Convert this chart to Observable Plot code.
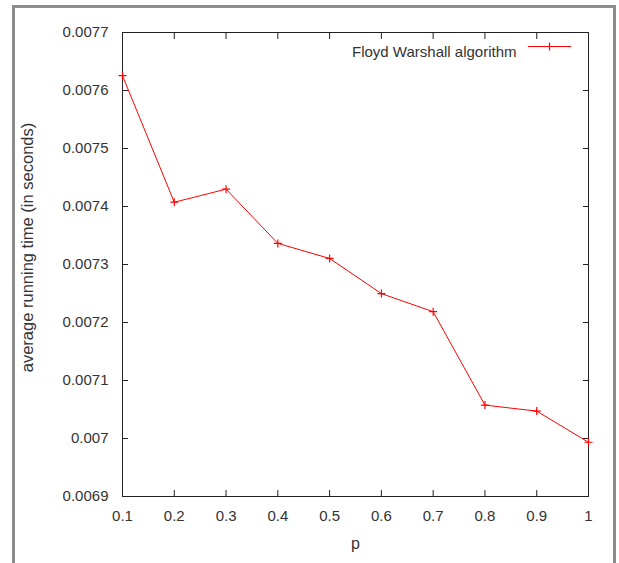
<!DOCTYPE html>
<html>
<head>
<meta charset="utf-8">
<script src="https://cdn.jsdelivr.net/npm/d3@7"></script>
<script src="https://cdn.jsdelivr.net/npm/@observablehq/plot@0.6"></script>
<style>
  html, body { margin: 0; padding: 0; background: #fff; }
  #wrap { position: relative; width: 619px; height: 563px; overflow: hidden; }
  #border { position: absolute; left: 12px; top: 5px; width: 598px; height: 600px; border: 3px solid #8c8c8c; pointer-events: none; }
</style>
</head>
<body>
<div id="wrap"><div id="border"></div></div>
<script>
const P = [0.1, 0.2, 0.3, 0.4, 0.5, 0.6, 0.7, 0.8, 0.9, 1.0];
const TIME = [0.0076255, 0.0074074, 0.0074299, 0.0073364, 0.0073104, 0.0072498, 0.0072186, 0.0070576, 0.0070472, 0.0069935];
const X_TICKS = [0.1, 0.2, 0.3, 0.4, 0.5, 0.6, 0.7, 0.8, 0.9, 1];
const Y_TICKS = [0.0069, 0.007, 0.0071, 0.0072, 0.0073, 0.0074, 0.0075, 0.0076, 0.0077];
const SERIES = "Floyd Warshall algorithm";
const X_LABEL = "p";
const Y_LABEL = "average running time (in seconds)";

const data = P.map((p, i) => ({p, t: TIME[i]}));
const plus = {
  draw(context, size) {
    const r = Math.sqrt(size / Math.PI);
    context.moveTo(-r, 0); context.lineTo(r, 0);
    context.moveTo(0, -r); context.lineTo(0, r);
  }
};
const hline = { draw(context, l) { context.moveTo(0, 0); context.lineTo(0, -l); } };
const font = "'Liberation Sans', Arial, sans-serif";
const blank = () => "";

const chart = Plot.plot({
  width: 619, height: 563,
  marginLeft: 122, marginRight: 31, marginTop: 32, marginBottom: 67,
  x: {domain: [0.1, 1]},
  y: {domain: [0.0069, 0.0077]},
  style: {fontFamily: font, fontSize: "15px", color: "#333", background: "transparent"},
  marks: [
    Plot.axisY(Y_TICKS, {anchor: "left", tickSize: -6, tickPadding: 20, tickFormat: d => String(+d.toFixed(4)), label: null, stroke: "#222", fill: "#333"}),
    Plot.axisY(Y_TICKS, {anchor: "right", tickSize: -6, tickFormat: blank, label: null, stroke: "#222"}),
    Plot.axisX(X_TICKS, {anchor: "bottom", tickSize: -6, tickPadding: 20, tickFormat: d => String(+d.toFixed(1)), label: null, stroke: "#222", fill: "#333"}),
    Plot.axisX(X_TICKS, {anchor: "top", tickSize: -6, tickFormat: blank, label: null, stroke: "#222"}),
    Plot.frame({stroke: "#222"}),
    Plot.line(data, {x: "p", y: "t", stroke: "red", strokeWidth: 1}),
    Plot.dot(data, {x: "p", y: "t", symbol: plus, r: 4, stroke: "red", strokeWidth: 1.2}),
    Plot.text([SERIES], {frameAnchor: "top-right", textAnchor: "end", dx: -72, dy: 14, fill: "#333"}),
    Plot.vector([0], {frameAnchor: "top-right", dx: -18, dy: 14, length: 42, rotate: -90, anchor: "start", shape: hline, stroke: "red", strokeWidth: 1.2}),
    Plot.dot([0], {frameAnchor: "top-right", dx: -39, dy: 14, symbol: plus, r: 4, stroke: "red", strokeWidth: 1.2}),
    Plot.text([Y_LABEL], {frameAnchor: "left", textAnchor: "middle", rotate: -90, dx: -95, dy: -17, fontSize: 16.5, fill: "#333"}),
    Plot.text([X_LABEL], {frameAnchor: "bottom", dy: 52, fontSize: 16, fill: "#333"})
  ]
});
document.getElementById("wrap").prepend(chart);
</script>
</body>
</html>
